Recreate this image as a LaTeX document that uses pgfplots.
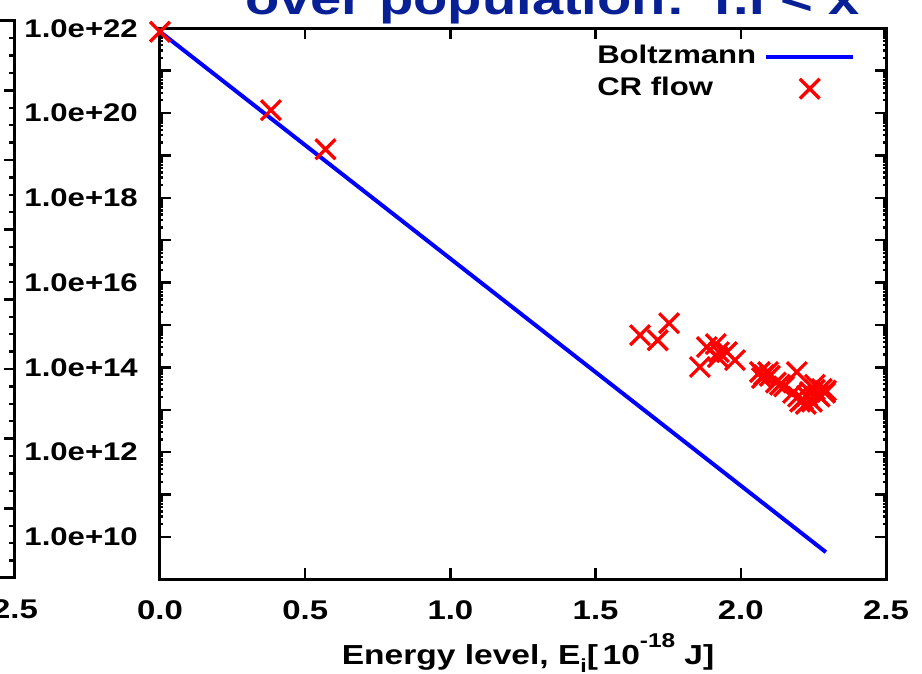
\documentclass[border=0pt]{standalone}
\usepackage{fontspec}
\setmainfont{Liberation Sans}[FakeStretch=1.22]
\usepackage{pgfplots}
\pgfplotsset{compat=1.18}
\definecolor{titleblue}{RGB}{8,32,150}
\newcommand{\fs}[1]{\fontsize{#1}{#1}\selectfont}
\pgfplotsset{
  long line legend/.style={legend image code/.code={\draw[##1] (0pt,0pt) -- (87pt,0pt);}},
  long mark legend/.style={legend image code/.code={\draw[mark repeat=2,mark phase=2,##1] plot coordinates {(0pt,0pt) (43.5pt,0pt) (87pt,0pt)};}},
  panel frame/.style={
    axis line style={line width=3pt},
    tick style={line width=2.4pt, black},
    major tick length=11pt,
    tick label style={font=\bfseries\fs{25.5}, inner sep=0pt},
    xticklabel style={yshift=-21pt, font=\bfseries\fs{27}},
  },
}

\begin{document}
\begin{tikzpicture}
\begin{axis}[
  panel frame,
  width=726pt, height=551pt, scale only axis,
  xmin=0, xmax=2.5, ymin=1e9, ymax=1e22,
  ymode=log,
  xtick={0,0.5,1,1.5,2,2.5},
  xticklabels={0.0,0.5,1.0,1.5,2.0,2.5},
  ytick={1e10,1e11,1e12,1e13,1e14,1e15,1e16,1e17,1e18,1e19,1e20,1e21,1e22},
  yticklabels={1.0e+10,{},1.0e+12,{},1.0e+14,{},1.0e+16,{},1.0e+18,{},1.0e+20,{},1.0e+22},
  minor ytick={},
  yticklabel style={xshift=-22pt},
  xlabel={Energy level, E\raisebox{-0.28em}{\fs{19}i}[\,10\raisebox{0.62em}{\fs{20}-18}\,\,J]},
  xlabel style={at={(axis description cs:0.5,0)}, anchor=base, yshift=-85.7pt, xshift=5pt, font=\bfseries\fs{27.5}, inner sep=0pt},
  legend style={at={(0.602,0.9715)}, anchor=north west, draw=none, fill=none,
    font=\bfseries\fs{25.5}, inner sep=0pt, column sep=8pt, row sep=7pt,
    nodes={inner sep=0pt, text height=19pt, text depth=6pt}},
  legend plot pos=right,
  legend cell align=left,
]
\addplot[blue, line width=4pt, long line legend]
  coordinates {(0,8.3e21) (2.293,4.37e9)};
\addlegendentry{Boltzmann}

\addplot[only marks, red, mark=x, mark size=14pt, line width=3.3pt, long mark legend]
  coordinates {
  (0,8.3e21) (0.382,1.17e20) (0.570,1.40e19)
  (1.653,5.75e14) (1.714,4.37e14) (1.753,1.10e15) (1.859,1.02e14)
  (1.883,3.02e14) (1.914,3.55e14) (1.925,2.29e14) (1.921,1.74e14)
  (1.952,2.29e14) (1.980,1.48e14) (2.066,7.76e13) (2.080,6.61e13)
  (2.094,7.76e13) (2.073,5.62e13) (2.100,6.31e13) (2.121,4.37e13)
  (2.135,3.89e13) (2.149,3.55e13) (2.193,7.76e13) (2.180,2.51e13)
  (2.197,2.04e13) (2.214,1.74e13) (2.228,2.14e13) (2.238,2.63e13)
  (2.255,2.95e13) (2.266,2.24e13) (2.279,3.09e13) (2.293,2.82e13)
  (2.245,1.55e13) (2.224,1.38e13) (2.204,1.55e13) (2.272,2.04e13)
  (2.255,3.89e13) (2.290,2.51e13)
  };
\addlegendentry{CR flow}
\end{axis}

% right edge of the neighbouring panel
\begin{axis}[
  panel frame,
  at={(-145pt,1.3pt)}, anchor=south east,
  width=400pt, height=557.3pt, scale only axis,
  xmin=0, xmax=2.5, ymin=0, ymax=8,
  xtick={0,0.5,...,2.5}, xticklabels={0.0,0.5,1.0,1.5,2.0,2.5},
  ytick={0,1,...,8}, yticklabels={}, minor y tick num=3,
  minor tick length=6pt,
]
\end{axis}

% title of the panel (runs off the top edge)
\node[anchor=base west, inner sep=0pt, text=titleblue, font=\bfseries\fs{46}] at (85pt,564.3pt) {over population: T.I < x};

\pgfresetboundingbox
\path[use as bounding box] (-160pt,-94.7pt) rectangle (762pt,579.3pt);
\end{tikzpicture}
\end{document}
